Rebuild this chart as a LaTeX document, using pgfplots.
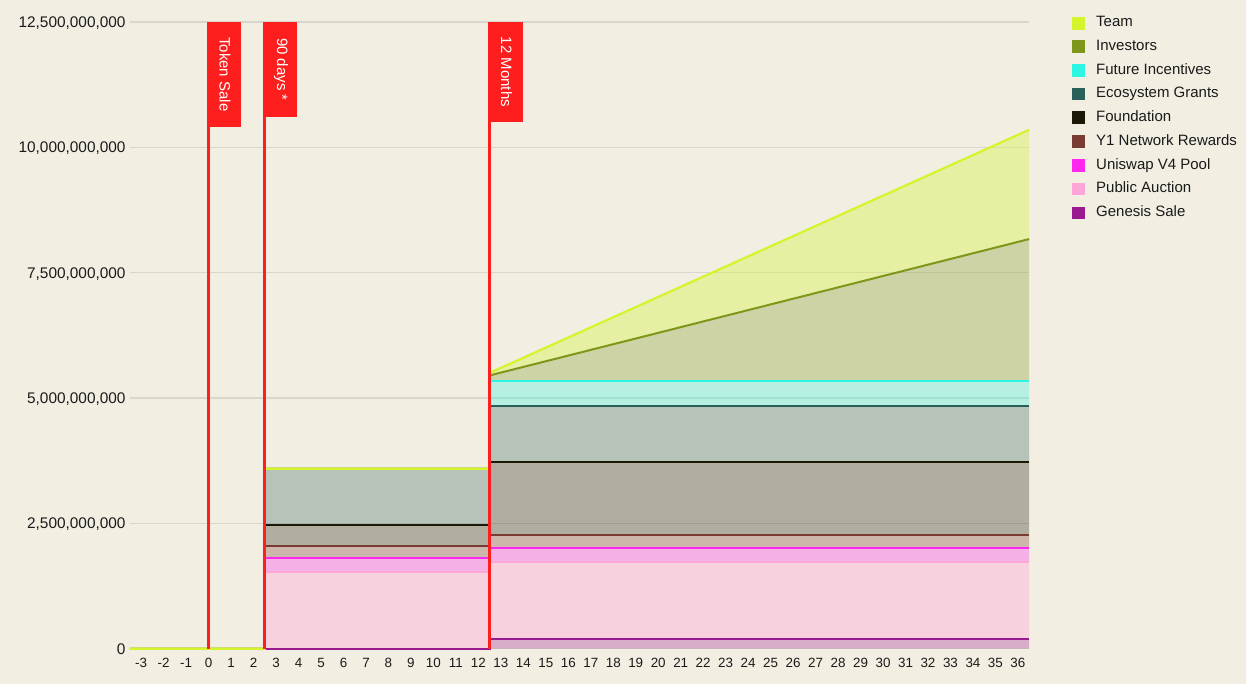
\documentclass[border=0pt]{standalone}
\usepackage{pgfplots}
\pgfplotsset{compat=1.18}
\usepackage{pgfplotstable}
\usepgfplotslibrary{fillbetween}
\usepackage{fontspec}
\setmainfont{Liberation Sans}

\definecolor{bg}{HTML}{F2EEE2}
\definecolor{gridgray}{HTML}{D9D6CE}
\definecolor{labelc}{HTML}{1A1A1A}
\definecolor{flagred}{HTML}{FF1E1E}
\definecolor{teamc}{HTML}{D4F52C}
\definecolor{invc}{HTML}{7E961A}
\definecolor{futc}{HTML}{2CF5E2}
\definecolor{ecoc}{HTML}{2A605A}
\definecolor{fndc}{HTML}{1C1808}
\definecolor{netc}{HTML}{7A3B33}
\definecolor{unic}{HTML}{FF26F0}
\definecolor{pubc}{HTML}{FFA6D8}
\definecolor{genc}{HTML}{9A1A90}

% Cumulative circulating supply (billions of tokens), top edge of each band,
% by month; repeated months give the step at each unlock.
\pgfplotstableread{
x     g    p    u    n    f    e    fi   i    t
-3.5  0    0    0    0    0    0    0    0    0
2.5   0    0    0    0    0    0    0    0    0
2.5   0    1.52 1.81 2.05 2.47 3.59 3.59 3.59 3.59
12.5  0    1.52 1.81 2.05 2.47 3.59 3.59 3.59 3.59
12.5  0.20 1.73 2.01 2.26 3.73 4.84 5.34 5.45 5.50
36.5  0.20 1.73 2.01 2.26 3.73 4.84 5.34 8.17 10.35
}\supply

\begin{document}
\begin{tikzpicture}
\begin{axis}[
  set layers,
  clip=false,
  at={(65pt,17.5pt)}, anchor=south west,
  scale only axis, width=449.8pt, height=313.5pt,
  xmin=-3.5, xmax=36.5, ymin=0, ymax=12.5,
  axis line style={draw=none},
  major tick length=0pt,
  xtick={-3,...,36},
  ytick={0,2.5,5,7.5,10,12.5},
  yticklabels={0,{2,500,000,000},{5,000,000,000},{7,500,000,000},{10,000,000,000},{12,500,000,000}},
  ymajorgrids,
  grid style={color=gridgray, line width=0.75pt},
  /pgf/number format/assume math mode=true,
  xticklabel style={font=\fontsize{6.7}{7}\selectfont, inner sep=0pt, anchor=north,
    text height=4.9pt, text depth=0pt, yshift=-4.3pt, text=labelc},
  yticklabel style={font=\fontsize{7.7}{9}\selectfont, inner sep=0pt, anchor=east,
    text height=5.6pt, text depth=0pt, xshift=-2pt, text=labelc},
  legend image code/.code={\fill[#1] (0pt,-2.9pt) rectangle (6pt,2.9pt); \path (9.5pt,0pt);},
  legend cell align=left,
  legend style={draw=none, fill=none, at={(1.041,1.022)}, anchor=north west,
    font=\fontsize{7.5}{9}\selectfont, text=labelc, row sep=1.0pt},
]
% page background, behind everything
\begin{pgfonlayer}{axis background}
\fill[bg] (rel axis cs:-0.14451,-0.05582) rectangle (rel axis cs:1.24166,1.03509);
\end{pgfonlayer}

% band edges (paths only)
\addplot[draw=none, name path=b0, forget plot] coordinates {(-3.5,0) (36.5,0)};
\addplot[draw=none, name path=b1, forget plot] table[x=x,y=g]{\supply};
\addplot[draw=none, name path=b2, forget plot] table[x=x,y=p]{\supply};
\addplot[draw=none, name path=b3, forget plot] table[x=x,y=u]{\supply};
\addplot[draw=none, name path=b4, forget plot] table[x=x,y=n]{\supply};
\addplot[draw=none, name path=b5, forget plot] table[x=x,y=f]{\supply};
\addplot[draw=none, name path=b6, forget plot] table[x=x,y=e]{\supply};
\addplot[draw=none, name path=b7, forget plot] table[x=x,y=fi]{\supply};
\addplot[draw=none, name path=b8, forget plot] table[x=x,y=i]{\supply};
\addplot[draw=none, name path=b9, forget plot] table[x=x,y=t]{\supply};

% translucent bands
\addplot[fill=genc, fill opacity=0.3, forget plot] fill between[of=b1 and b0];
\addplot[fill=pubc, fill opacity=0.4, forget plot] fill between[of=b2 and b1];
\addplot[fill=unic, fill opacity=0.3, forget plot] fill between[of=b3 and b2];
\addplot[fill=netc, fill opacity=0.3, forget plot] fill between[of=b4 and b3];
\addplot[fill=fndc, fill opacity=0.3, forget plot] fill between[of=b5 and b4];
\addplot[fill=ecoc, fill opacity=0.3, forget plot] fill between[of=b6 and b5];
\addplot[fill=futc, fill opacity=0.3, forget plot] fill between[of=b7 and b6];
\addplot[fill=invc, fill opacity=0.3, forget plot] fill between[of=b8 and b7];
\addplot[fill=teamc, fill opacity=0.35, forget plot] fill between[of=b9 and b8];

% top edge of each band
\addplot[genc, line width=1pt, forget plot] table[x=x,y=g]{\supply};
\addplot[pubc, line width=1pt, forget plot] table[x=x,y=p]{\supply};
\addplot[unic, line width=1pt, forget plot] table[x=x,y=u]{\supply};
\addplot[netc, line width=1pt, forget plot] table[x=x,y=n]{\supply};
\addplot[fndc, line width=1pt, forget plot] table[x=x,y=f]{\supply};
\addplot[ecoc, line width=1pt, forget plot] table[x=x,y=e]{\supply};
\addplot[futc, line width=1pt, forget plot] table[x=x,y=fi]{\supply};
\addplot[invc, line width=1pt, forget plot] table[x=x,y=i]{\supply};
\addplot[teamc, line width=1.1pt, forget plot] table[x=x,y=t]{\supply};

\addlegendimage{teamc}\addlegendentry{Team}
\addlegendimage{invc}\addlegendentry{Investors}
\addlegendimage{futc}\addlegendentry{Future Incentives}
\addlegendimage{ecoc}\addlegendentry{Ecosystem Grants}
\addlegendimage{fndc}\addlegendentry{Foundation}
\addlegendimage{netc}\addlegendentry{Y1 Network Rewards}
\addlegendimage{unic}\addlegendentry{Uniswap V4 Pool}
\addlegendimage{pubc}\addlegendentry{Public Auction}
\addlegendimage{genc}\addlegendentry{Genesis Sale}

% Milestone markers
\draw[flagred, line width=1.4pt] (axis cs:0,0) -- (axis cs:0,12.5);
\draw[flagred, line width=1.4pt] (axis cs:2.5,0) -- (axis cs:2.5,12.5);
\draw[flagred, line width=1.4pt] (axis cs:12.5,0) -- (axis cs:12.5,12.5);
\fill[flagred] (axis cs:0,12.5) rectangle (axis cs:1.455,10.41);
\fill[flagred] (axis cs:2.5,12.5) rectangle (axis cs:3.94,10.61);
\fill[flagred] (axis cs:12.5,12.5) rectangle (axis cs:14.0,10.51);
\node[rotate=-90, text=white, inner sep=0pt, font=\fontsize{7.5}{9}\selectfont]
  at (axis cs:0.73,11.455) {Token Sale};
\node[rotate=-90, text=white, inner sep=0pt, font=\fontsize{7.5}{9}\selectfont]
  at (axis cs:3.22,11.555) {90 days *};
\node[rotate=-90, text=white, inner sep=0pt, font=\fontsize{7.5}{9}\selectfont]
  at (axis cs:13.25,11.505) {12 Months};
\end{axis}
\end{tikzpicture}
\end{document}
